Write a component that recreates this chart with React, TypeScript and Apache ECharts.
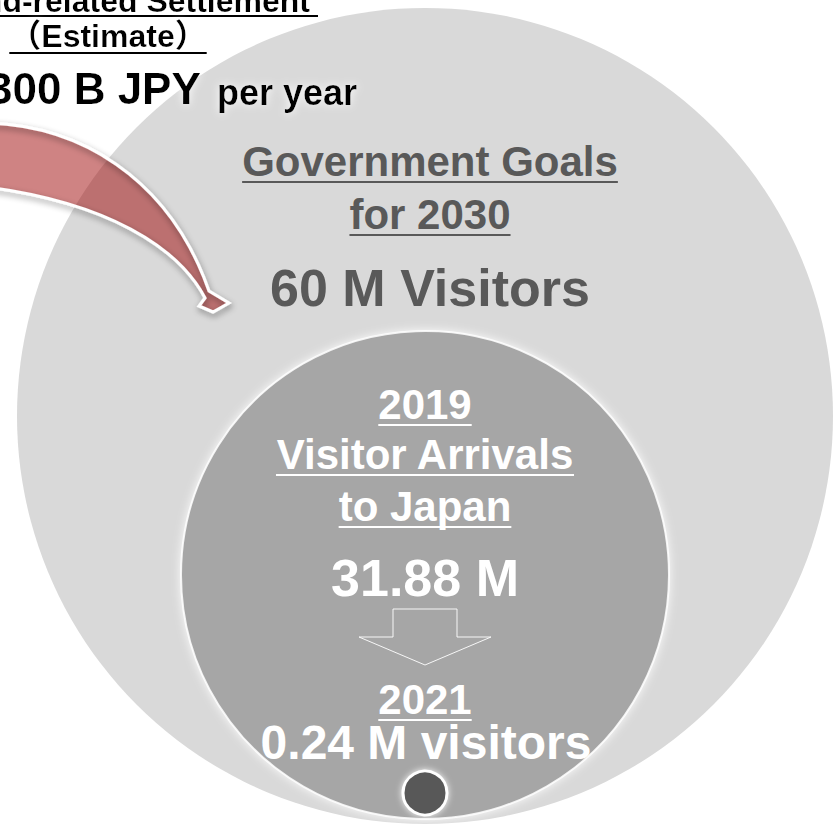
import React, { useEffect, useRef } from "react";
import * as echarts from "echarts";

// ---- data ----
const milestoneYears = [2030, 2019, 2021];
const visitorsMillions = [60, 31.88, 0.24];
const settlementHeading = ["Inbound-related Settlement", "（Estimate）"];
const settlementAmount = ["300 B JPY", "per year"];
const goalHeading = ["Government Goals", "for"];
const arrivalsHeading = ["Visitor Arrivals", "to Japan"];

const W = 836;
const H = 832;
const FAMILY = '"Liberation Sans", Arial, "Noto Sans CJK JP", sans-serif';

let measureCtx: CanvasRenderingContext2D | null = null;
function measure(text: string, size: number): number {
  if (!measureCtx) measureCtx = document.createElement("canvas").getContext("2d");
  measureCtx!.font = `bold ${size}px ${FAMILY}`;
  return measureCtx!.measureText(text).width;
}

function txt(text: string, x: number, baseline: number, size: number, color: string, align: string = "center", extra: any = {}) {
  return {
    type: "text",
    z: 20,
    x,
    y: baseline - size * 0.36,
    style: {
      text,
      fill: color,
      fontSize: size,
      fontWeight: "bold",
      fontFamily: FAMILY,
      align,
      textAlign: align,
      verticalAlign: "middle",
      textVerticalAlign: "middle",
      ...extra,
    },
  };
}

function underline(x1: number, x2: number, y: number, color: string, w = 2) {
  return {
    type: "line",
    z: 20,
    shape: { x1, y1: y, x2, y2: y },
    style: { stroke: color, lineWidth: w },
  };
}

function centeredWithUnderline(text: string, cx: number, baseline: number, size: number, color: string, extra: any = {}) {
  const w = measure(text, size);
  return [txt(text, cx, baseline, size, color, "center", extra), underline(cx - w / 2, cx + w / 2, baseline + 5, color)];
}

const ARROW_D =
  "M -30 123 C 80 120, 170 180, 209 291 L 229 303 L 213 312 L 199 306 L 205 298 C 180 250, 110 200, -30 185 Z";

export default function App() {
  const ref = useRef<HTMLDivElement>(null);
  useEffect(() => {
    document.body.style.margin = "0";
    try {
      echarts.graphic.registerShape("curvedArrow", echarts.graphic.extendPath(ARROW_D, {}) as any);
    } catch (e) {}
    const chart = echarts.init(ref.current!, null, { renderer: "svg", width: W, height: H });

    const outer = "#595959";
    const glow = { textShadowColor: "#ffffff", textShadowBlur: 8 };

    const elements: any[] = [];
    // big circle
    elements.push({ type: "circle", z: 1, shape: { cx: 425, cy: 416, r: 408 }, style: { fill: "#d9d9d9" } });
    // curved arrow
    elements.push({ type: "curvedArrow", z: 3, style: { fill: "rgba(160,8,8,0.5)", stroke: "none" } });
    elements.push({
      type: "curvedArrow",
      z: 4,
      style: { fill: "none", stroke: "#ffffff", lineWidth: 3, shadowColor: "rgba(0,0,0,0.45)", shadowBlur: 6, shadowOffsetX: 1, shadowOffsetY: 3 },
    });
    // inner circle
    elements.push({
      type: "circle",
      z: 5,
      shape: { cx: 425, cy: 575, r: 244 },
      style: { fill: "#a6a6a6", stroke: "rgba(255,255,255,0.85)", lineWidth: 2, shadowColor: "rgba(255,255,255,0.9)", shadowBlur: 10 },
    });
    // small dark circle
    elements.push({
      type: "circle",
      z: 6,
      shape: { cx: 425, cy: 793, r: 22 },
      style: { fill: "#595959", stroke: "#ffffff", lineWidth: 3, shadowColor: "rgba(255,255,255,0.9)", shadowBlur: 6 },
    });
    // block down arrow outline
    elements.push({
      type: "polygon",
      z: 6,
      shape: { points: [[393, 609], [457, 609], [457, 637], [491, 637], [425, 665], [359, 637], [393, 637]] },
      style: { fill: "none", stroke: "rgba(255,255,255,0.9)", lineWidth: 1 },
    });

    // top-left texts
    const l1 = settlementHeading[0];
    const l1w = measure(l1, 32);
    elements.push(txt(l1, 310, 13, 32, "#000", "right", glow));
    elements.push(underline(310 - l1w, 318, 16, "#000"));
    elements.push(...centeredWithUnderline(settlementHeading[1], 108, 48, 32, "#000", glow));
    elements.push(txt(settlementAmount[0], -12, 104, 44, "#000", "left", glow));
    elements.push(txt(settlementAmount[1], 217, 105, 36, "#000", "left", glow));

    // outer circle texts
    elements.push(...centeredWithUnderline(goalHeading[0], 430, 177, 42, outer));
    elements.push(...centeredWithUnderline(`${goalHeading[1]} ${milestoneYears[0]}`, 430, 230, 42, outer));
    elements.push(txt(`${visitorsMillions[0]} M Visitors`, 430, 307, 52, outer));

    // inner circle texts
    elements.push(...centeredWithUnderline(String(milestoneYears[1]), 425, 420, 42, "#fff"));
    elements.push(...centeredWithUnderline(arrivalsHeading[0], 425, 470, 42, "#fff"));
    elements.push(...centeredWithUnderline(arrivalsHeading[1], 425, 522, 42, "#fff"));
    elements.push(txt(`${visitorsMillions[1].toFixed(2)} M`, 425, 597, 52, "#fff"));
    elements.push(...centeredWithUnderline(String(milestoneYears[2]), 425, 715, 42, "#fff"));
    elements.push(txt(`${visitorsMillions[2].toFixed(2)} M visitors`, 426, 760, 48, "#fff"));

    chart.setOption({ animation: false, graphic: { elements } });
    return () => chart.dispose();
  }, []);
  return <div ref={ref} style={{ width: W, height: H, overflow: "hidden" }} />;
}
